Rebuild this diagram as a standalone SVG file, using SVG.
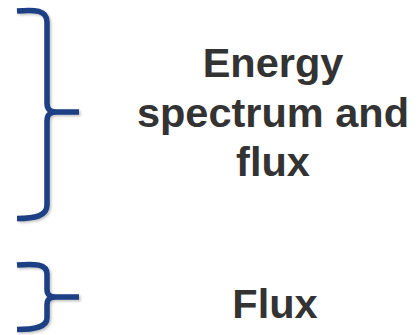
<svg xmlns="http://www.w3.org/2000/svg" width="418" height="335" viewBox="0 0 418 335">
  <defs>
    <filter id="sh" x="-20%" y="-10%" width="140%" height="120%">
      <feDropShadow dx="1.5" dy="1.5" stdDeviation="1" flood-color="#000" flood-opacity="0.25"/>
    </filter>
    <style>
      .brace { fill: none; stroke: #1B3F83; stroke-width: 5.5; stroke-linecap: butt; stroke-linejoin: round; filter: url(#sh); }
      .lbl { font-family: "Liberation Sans", Arial, sans-serif; font-weight: bold; font-size: 41.5px; fill: #333333; text-anchor: middle; }
    </style>
  </defs>
  <rect width="418" height="335" fill="#ffffff"/>
  <g id="connectors">
    <path class="brace" d="M17,11 C35,9.5 47,10 47,22 L47,103 C47,110 50,112 57,112 L79,112 M57,112 C50,112 47,114 47,121 L47,205 C47,216 35,218.5 17,218.5"/>
    <path class="brace" d="M17,265 C35,263.5 47,264 47,274 L47,289 C47,295 50,297 56,297 L79,297 M56,297 C50,297 47,299 47,305 L47,318 C47,327 35,329.5 17,329.5"/>
  </g>
  <g id="node-energy">
    <text class="lbl" x="273" y="77">Energy</text>
    <text class="lbl" x="273" y="127">spectrum and</text>
    <text class="lbl" x="273" y="176">flux</text>
  </g>
  <g id="node-flux">
    <text class="lbl" x="275" y="318">Flux</text>
  </g>
</svg>
